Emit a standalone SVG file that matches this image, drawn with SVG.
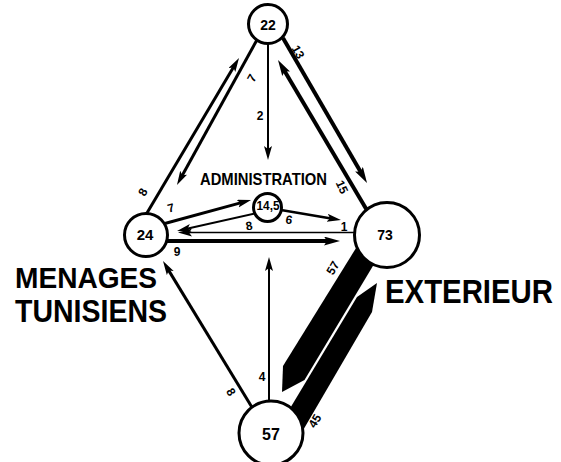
<svg xmlns="http://www.w3.org/2000/svg" width="561" height="462" viewBox="0 0 561 462">
<style>
.ln{fill:none;stroke:#000;stroke-linecap:butt}
.nd{fill:#fff;stroke:#000;stroke-width:3}
.nt{font-family:"Liberation Sans",Arial,sans-serif;font-weight:bold;fill:#000;text-anchor:middle;dominant-baseline:central}
.el{font-family:"Liberation Sans",Arial,sans-serif;font-weight:bold;font-size:12px;fill:#000;text-anchor:middle;dominant-baseline:central}
.big{font-family:"Liberation Sans",Arial,sans-serif;font-weight:bold;fill:#000}
.band{fill:#000}
</style>
<defs>
<marker id="ah" markerUnits="userSpaceOnUse" markerWidth="16" markerHeight="10" refX="4" refY="4" orient="auto"><path d="M0,0 L14,4 L0,8 L3,4 z" fill="#000"/></marker>
<marker id="ahL" markerUnits="userSpaceOnUse" markerWidth="18" markerHeight="11" refX="4" refY="4.5" orient="auto"><path d="M0,0 L16,4.5 L0,9 L3,4.5 z" fill="#000"/></marker>
</defs>
<rect width="561" height="462" fill="#fff"/>
<g id="connectors">
<path class="ln" d="M144,218 L233.9,66.6" stroke-width="3" marker-end="url(#ah)"/>
<path class="ln" d="M258,38 L181.8,176.2" stroke-width="3" marker-end="url(#ah)"/>
<path class="ln" d="M268,42 L268,150" stroke-width="2" marker-end="url(#ah)"/>
<path class="ln" d="M283,38 L361,172.6" stroke-width="4" marker-end="url(#ahL)"/>
<path class="ln" d="M368,212 L284.1,70.3" stroke-width="4" marker-end="url(#ahL)"/>
<path class="ln" d="M163,224 L241.4,202.6" stroke-width="3" marker-end="url(#ah)"/>
<path class="ln" d="M257,213 L186.8,228.8" stroke-width="2" marker-end="url(#ah)"/>
<path class="ln" d="M356,232.5 L188,232.5" stroke-width="1.5" marker-end="url(#ah)"/>
<path class="ln" d="M166,241 L328,241" stroke-width="4" marker-end="url(#ahL)"/>
<path class="ln" d="M281,210 L331.1,218.4" stroke-width="2.5" marker-end="url(#ah)"/>
<path class="ln" d="M253,409 L168.2,269.6" stroke-width="3" marker-end="url(#ah)"/>
<path class="ln" d="M269,404 L269,267" stroke-width="2" marker-end="url(#ah)"/>
<polygon class="band" points="361,240 382.5,250 304.5,380 282,392 283,366"/>
<polygon class="band" points="377,283 372,312 302,432 286,415 357,297"/>
<text class="el" x="143" y="192" transform="rotate(-60 143 192)">8</text>
<text class="el" x="252" y="78" transform="rotate(-60 252 78)">7</text>
<text class="el" x="260" y="116">2</text>
<text class="el" x="298" y="52" transform="rotate(60 298 52)">13</text>
<text class="el" x="342" y="187" transform="rotate(65 342 187)">15</text>
<text class="el" x="171" y="208" transform="rotate(-15 171 208)">7</text>
<text class="el" x="249" y="226" transform="rotate(-10 249 226)">8</text>
<text class="el" x="289" y="220" transform="rotate(10 289 220)">6</text>
<text class="el" x="344" y="227">1</text>
<text class="el" x="177" y="252">9</text>
<text class="el" x="333" y="268" transform="rotate(-60 333 268)">57</text>
<text class="el" x="315" y="421" transform="rotate(-60 315 421)">45</text>
<text class="el" x="231" y="392" transform="rotate(59 231 392)">8</text>
<text class="el" x="262" y="377">4</text>
</g>
<g id="n22"><circle class="nd" cx="268" cy="24" r="19.5"/><text class="nt" x="268" y="25" font-size="14">22</text></g>
<g id="n24"><circle class="nd" cx="146" cy="235" r="21.5"/><text class="nt" x="145" y="234" font-size="15">24</text></g>
<g id="n145"><circle class="nd" cx="267.5" cy="207.5" r="14"/><text class="nt" x="268" y="205" font-size="13" textLength="23" lengthAdjust="spacingAndGlyphs">14,5</text></g>
<g id="n73"><circle class="nd" cx="387" cy="235" r="32.5"/><text class="nt" x="385" y="235" font-size="14">73</text></g>
<g id="n57"><circle class="nd" cx="271" cy="433" r="32"/><text class="nt" x="271" y="434" font-size="16">57</text></g>
<g id="admin"><text class="big" x="200" y="185" font-size="17" textLength="127" lengthAdjust="spacingAndGlyphs">ADMINISTRATION</text></g>
<g id="menages"><text class="big" x="15" y="288" font-size="30" textLength="142" lengthAdjust="spacingAndGlyphs">MENAGES</text><text class="big" x="15" y="322" font-size="31" textLength="152" lengthAdjust="spacingAndGlyphs">TUNISIENS</text></g>
<g id="exterieur"><text class="big" x="385" y="303" font-size="29.5" textLength="168" lengthAdjust="spacingAndGlyphs" transform="translate(0 303) scale(1 1.1) translate(0 -303)">EXTERIEUR</text></g>
</svg>
